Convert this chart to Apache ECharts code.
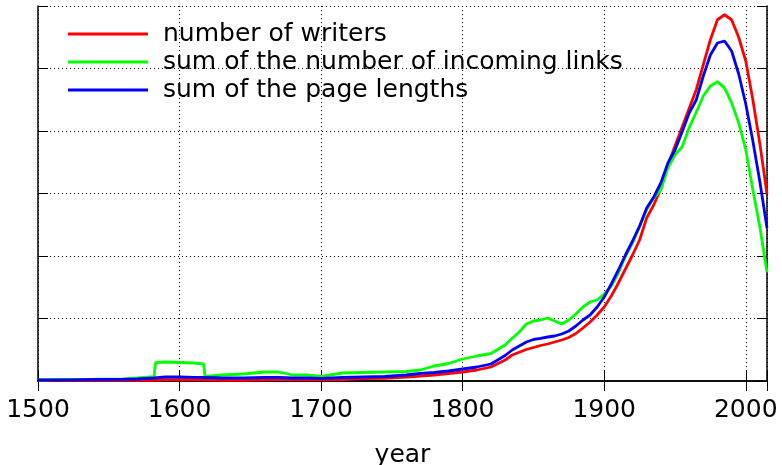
<!DOCTYPE html>
<html>
<head>
<meta charset="utf-8">
<script src="https://cdn.jsdelivr.net/npm/echarts@6/dist/echarts.min.js"></script>
<style>
  html, body { margin: 0; padding: 0; background: #fff; }
  #chart { width: 782px; height: 465px; }
</style>
</head>
<body>
<div id="chart"></div>
<script>
// years sampled along the curves
const years = [1500, 1520, 1540, 1560, 1570, 1582, 1583, 1590, 1600, 1610, 1617, 1618,
  1630, 1645, 1660, 1670, 1680, 1690, 1700, 1715, 1730, 1745, 1760, 1770, 1780, 1790,
  1800, 1810, 1820, 1830, 1835, 1840, 1845, 1850, 1855, 1860, 1865, 1870, 1875, 1880,
  1885, 1890, 1895, 1900, 1905, 1910, 1915, 1920, 1925, 1930, 1935, 1940, 1945, 1950,
  1955, 1960, 1965, 1970, 1975, 1980, 1985, 1990, 1995, 2000, 2005, 2010, 2015];

const writers = [0.01, 0.01, 0.01, 0.01, 0.01, 0.01, 0.02, 0.02, 0.02, 0.02, 0.02, 0.01,
  0.01, 0.01, 0.02, 0.02, 0.02, 0.02, 0.02, 0.024, 0.037, 0.043, 0.064, 0.08, 0.096, 0.12,
  0.144, 0.176, 0.224, 0.336, 0.416, 0.46, 0.504, 0.536, 0.568, 0.592, 0.624, 0.656, 0.696, 0.76,
  0.848, 0.944, 1.056, 1.184, 1.36, 1.568, 1.792, 2.016, 2.256, 2.61, 2.816, 3.08, 3.456, 3.76,
  4.06, 4.36, 4.66, 5.06, 5.46, 5.78, 5.86, 5.78, 5.5, 5.12, 4.5, 3.79, 2.99];

const incomingLinks = [0.016, 0.027, 0.029, 0.032, 0.048, 0.069, 0.293, 0.304, 0.296, 0.288, 0.272, 0.072,
  0.096, 0.112, 0.144, 0.144, 0.096, 0.096, 0.072, 0.128, 0.136, 0.144, 0.152, 0.176, 0.24, 0.28,
  0.352, 0.4, 0.44, 0.576, 0.683, 0.784, 0.912, 0.96, 0.976, 1.008, 0.96, 0.912, 0.976, 1.072,
  1.184, 1.264, 1.296, 1.392, 1.52, 1.728, 2.0, 2.208, 2.464, 2.74, 2.93, 3.06, 3.41, 3.62,
  3.744, 4.05, 4.30, 4.56, 4.72, 4.79, 4.69, 4.45, 4.13, 3.70, 3.06, 2.46, 1.74];

const pageLengths = [0.016, 0.019, 0.024, 0.027, 0.032, 0.048, 0.056, 0.064, 0.064, 0.059, 0.056, 0.051,
  0.048, 0.048, 0.056, 0.056, 0.048, 0.048, 0.043, 0.056, 0.064, 0.072, 0.096, 0.123, 0.136, 0.16,
  0.192, 0.224, 0.272, 0.408, 0.496, 0.56, 0.624, 0.664, 0.683, 0.704, 0.72, 0.752, 0.8, 0.88,
  0.976, 1.056, 1.184, 1.344, 1.552, 1.776, 2.016, 2.24, 2.48, 2.768, 2.944, 3.168, 3.488, 3.696,
  3.984, 4.288, 4.496, 4.88, 5.216, 5.408, 5.44, 5.28, 4.912, 4.432, 3.84, 3.184, 2.448];

const seriesNames = ['number of writers', 'sum of the number of incoming links', 'sum of the page lengths'];
const seriesColors = ['#ff0000', '#00ff00', '#0000ff'];

const font = 'DejaVu Sans';
const chart = echarts.init(document.getElementById('chart'));

const pairs = arr => years.map((y, i) => [y, arr[i]]);

const frameAxis = {
  axisLine: { show: true, lineStyle: { color: '#000', width: 1.5 } },
  axisTick: { show: true, inside: true, length: 10, lineStyle: { color: '#000', width: 1 } }
};

const option = {
  animation: false,
  textStyle: { fontFamily: font },
  grid: { left: 38, right: 15, top: 6, bottom: 84, outerBoundsMode: 'none' },
  legend: {
    orient: 'vertical',
    left: 68,
    top: 20,
    padding: 0,
    icon: 'rect',
    itemWidth: 80,
    itemHeight: 3,
    itemGap: 0,
    textStyle: { fontSize: 25, color: '#000', fontFamily: font, lineHeight: 28, padding: [0, 0, 0, 10] },
    data: seriesNames
  },
  xAxis: [
    Object.assign({}, frameAxis, {
      type: 'value', min: 1500, max: 2015, interval: 100, position: 'bottom',
      axisLabel: {
        fontSize: 25, color: '#000', fontFamily: font, margin: 17,
        formatter: v => (v % 100 === 0 ? String(v) : '')
      },
      splitLine: { show: true, lineStyle: { color: '#000', width: 1, type: [1, 3] } },
      name: 'year', nameLocation: 'middle', nameGap: 62,
      nameTextStyle: { fontSize: 25, color: '#000', fontFamily: font }
    }),
    Object.assign({}, frameAxis, {
      type: 'value', min: 1500, max: 2015, interval: 100, position: 'top',
      axisLabel: { show: false }, splitLine: { show: false }
    })
  ],
  yAxis: [
    Object.assign({}, frameAxis, {
      type: 'value', min: 0, max: 6, interval: 1, position: 'left',
      axisLabel: { show: false },
      splitLine: { show: true, lineStyle: { color: '#000', width: 1, type: [1, 3] } }
    }),
    Object.assign({}, frameAxis, {
      type: 'value', min: 0, max: 6, interval: 1, position: 'right',
      axisLabel: { show: false }, splitLine: { show: false }
    })
  ],
  series: [writers, incomingLinks, pageLengths].map((arr, i) => ({
    name: seriesNames[i],
    type: 'line',
    xAxisIndex: 0,
    yAxisIndex: 0,
    showSymbol: false,
    symbol: 'none',
    color: seriesColors[i],
    lineStyle: { color: seriesColors[i], width: 2.8 },
    data: pairs(arr)
  }))
};

chart.setOption(option);
</script>
</body>
</html>
